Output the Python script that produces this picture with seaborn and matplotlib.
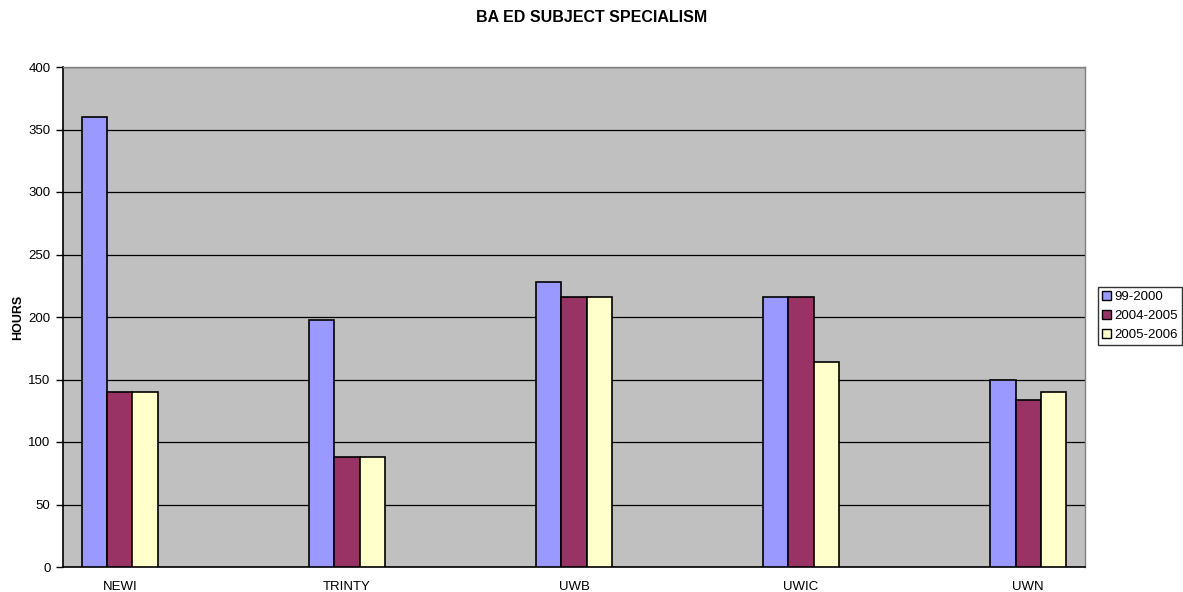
import numpy as np
import pandas as pd
import matplotlib
matplotlib.use("Agg")
import matplotlib.pyplot as plt
import seaborn as sns

# chart data
colleges = ["NEWI", "TRINTY", "UWB", "UWIC", "UWN"]
years = ["99-2000", "2004-2005", "2005-2006"]
hours_99_2000 = [360, 198, 228, 216, 150]
hours_2004_2005 = [140, 88, 216, 216, 134]
hours_2005_2006 = [140, 88, 216, 164, 140]

df = pd.DataFrame({
    "college": colleges * 3,
    "year": [years[0]] * 5 + [years[1]] * 5 + [years[2]] * 5,
    "hours": hours_99_2000 + hours_2004_2005 + hours_2005_2006,
})

# Excel style gaps between the groups: blank slots between colleges
order = []
for i, c in enumerate(colleges):
    order.append(c)
    if i < len(colleges) - 1:
        order.append(" " * (i + 1))

sns.set_style("white")
plt.rcParams['font.family'] = ['Liberation Sans', 'DejaVu Sans']
plt.rcParams['text.color'] = 'black'
plt.rcParams['axes.labelcolor'] = 'black'
plt.rcParams['xtick.color'] = 'black'
plt.rcParams['ytick.color'] = 'black'

fig = plt.figure(figsize=(11.83, 5.92), dpi=100)
ax = fig.add_axes([63 / 1183, 25 / 592, 1022 / 1183, 500 / 592])
ax.set_facecolor("#C0C0C0")

palette = {"99-2000": "#9999FF", "2004-2005": "#993366", "2005-2006": "#FFFFCC"}
sns.barplot(data=df, x="college", y="hours", hue="year", order=order,
            hue_order=years, palette=palette, width=0.67, saturation=1,
            edgecolor="black", linewidth=1.2, ax=ax, zorder=3)

ax.set_ylim(0, 400)
ax.set_xlim(-0.5, len(order) - 0.5)
ax.set_yticks(np.arange(0, 401, 50))
ax.yaxis.grid(True, color="black", linewidth=0.9, zorder=0)
ax.set_axisbelow(True)

# tick marks at the category boundaries, labels only for colleges
ax.set_xticks(range(len(order)))
ax.set_xticklabels([o if o.strip() else "" for o in order], fontsize=9.5)
ax.tick_params(axis="x", which="major", length=0, pad=10)
ax.set_xticks(np.arange(-0.5, len(order), 1), minor=True)
ax.tick_params(axis="x", which="minor", length=4, width=1, color="black", direction="out")
ax.tick_params(axis="y", labelsize=9.5, length=5, width=1, color="black",
               direction="out", left=True, pad=4)

for side in ["top", "right"]:
    ax.spines[side].set_color("#808080")
    ax.spines[side].set_linewidth(1)
for side in ["left", "bottom"]:
    ax.spines[side].set_color("black")
    ax.spines[side].set_linewidth(1.2)

ax.set_xlabel("")
ax.set_ylabel("HOURS", fontsize=9, fontweight="bold", labelpad=3)

fig.text(0.5, 1 - 17.5 / 592, "BA ED SUBJECT SPECIALISM", fontsize=11.5,
         fontweight="bold", ha="center", va="center")

leg = ax.legend(loc="upper left", bbox_to_anchor=(1098 / 1183, 1 - 287 / 592),
                bbox_transform=fig.transFigure, fontsize=9.5, frameon=True,
                fancybox=False, edgecolor="black", handlelength=0.7,
                handleheight=0.7, handletextpad=0.25, borderpad=0.3,
                labelspacing=0.5, borderaxespad=0)
leg.get_frame().set_linewidth(1)
for h in leg.legend_handles:
    h.set_edgecolor("black")
    h.set_linewidth(1)

fig.savefig("out.png", dpi=100, facecolor="white")
